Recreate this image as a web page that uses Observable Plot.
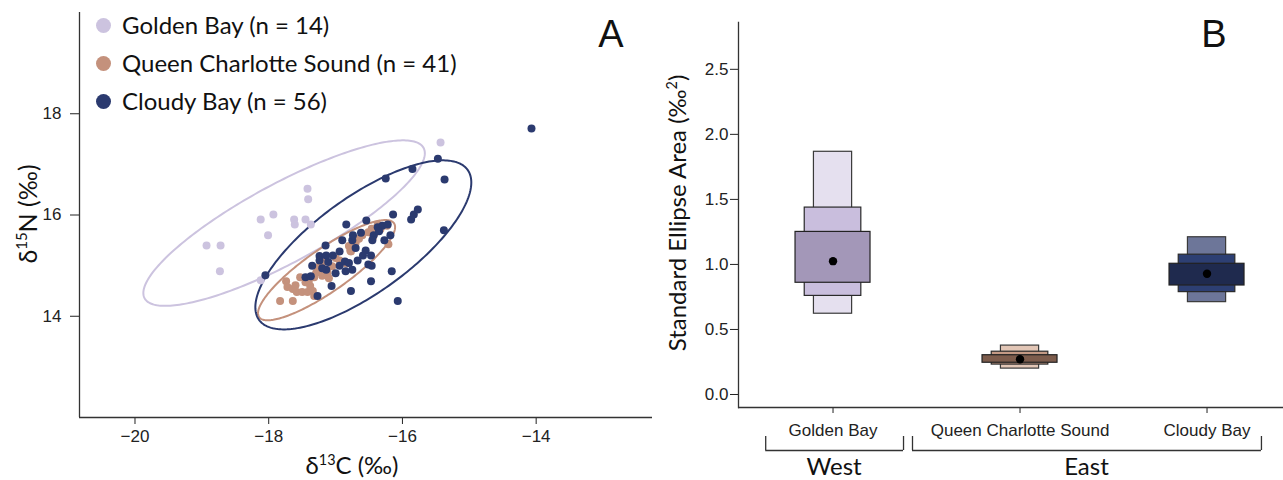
<!DOCTYPE html>
<html><head><meta charset="utf-8">
<script src="https://cdn.jsdelivr.net/npm/d3@7"></script>
<script src="https://cdn.jsdelivr.net/npm/@observablehq/plot@0.6"></script>
<style>
html,body{margin:0;padding:0;background:#fff;}
#wrap{position:relative;width:1283px;height:480px;overflow:hidden;font-family:Lato,"Open Sans",sans-serif;color:#111;}
#wrap svg{position:absolute;}
.t{position:absolute;white-space:nowrap;line-height:1;transform:translate(-50%,-50%);}
.leg{position:absolute;left:96px;display:flex;align-items:center;white-space:nowrap;font-size:24px;line-height:1;transform:translateY(-50%);}
.leg i{display:inline-block;width:15px;height:15px;border-radius:50%;margin-right:11px;}
</style></head><body><div id="wrap"></div>
<script>
// ---------- Panel A data ----------
const groups = ["Golden Bay", "Queen Charlotte Sound", "Cloudy Bay"];
const groupN = [14, 41, 56];
const groupColors = ["#ccc3df", "#c4917c", "#2b3a6f"];

const gbX = [-18.93, -18.72, -18.73, -18.12, -17.93, -18.01, -17.42, -17.41, -17.62, -17.61, -17.45, -17.37, -15.43, -18.12];
const gbY = [15.40, 15.40, 14.89, 15.91, 16.01, 15.60, 16.52, 16.31, 15.91, 15.81, 15.91, 15.81, 17.43, 14.71];

const qcsX = [-17.83, -17.64, -17.74, -17.72, -17.64, -17.58, -17.50, -17.42, -17.53, -17.45,
              -17.38, -17.34, -17.32, -17.32, -17.29, -17.24, -17.18, -17.12, -17.10, -17.05,
              -16.84, -16.80, -16.77, -16.65, -16.51, -16.46, -16.42, -16.37, -16.33, -16.21,
              -16.23, -17.60, -17.26, -16.94, -16.78, -16.44, -17.40, -17.20, -16.70, -17.00, -16.60];
const qcsY = [14.30, 14.30, 14.69, 14.58, 14.54, 14.48, 14.48, 14.48, 14.77, 14.67,
              14.60, 14.50, 14.40, 14.77, 14.86, 14.99, 15.07, 14.86, 14.75, 14.99,
              15.04, 15.39, 15.28, 15.53, 15.66, 15.73, 15.63, 15.81, 15.72, 15.42,
              15.79, 14.61, 14.94, 15.10, 15.30, 15.56, 14.70, 14.80, 15.45, 15.15, 15.60];

const cbX = [-18.05, -16.25, -15.85, -15.47, -16.14, -15.87, -15.83, -15.77, -15.38, -16.84,
             -16.54, -16.75, -16.74, -16.43, -16.45, -16.37, -16.30, -16.22, -16.27, -16.55,
             -16.59, -16.67, -16.94, -17.15, -17.24, -17.14, -17.04, -17.35, -17.24, -17.11,
             -16.94, -16.86, -16.75, -16.80, -16.51, -16.47, -16.16, -16.47, -16.77, -17.06,
             -17.45, -17.37, -17.27, -16.07, -17.14, -14.07, -15.37, -16.18, -16.90, -16.62,
             -16.46, -17.00, -16.70, -17.20, -16.35, -16.85];
const cbY = [14.81, 16.72, 16.91, 17.11, 16.01, 15.91, 16.01, 16.11, 15.70, 15.81,
             15.89, 15.50, 15.60, 15.60, 15.50, 15.76, 15.79, 15.81, 15.50, 15.30,
             15.20, 15.10, 15.28, 15.40, 15.19, 15.20, 15.20, 15.00, 15.10, 15.07,
             15.00, 15.08, 14.92, 15.05, 15.02, 15.20, 14.89, 14.69, 14.50, 14.60,
             14.77, 14.79, 14.40, 14.30, 14.92, 17.71, 16.70, 15.60, 15.50, 15.65,
             15.00, 14.85, 15.35, 14.95, 15.68, 14.89];

// standard ellipses (data units): centre, half-extents in x and y, phase (deg)
const ellCx = [-17.77, -17.135, -16.585];
const ellCy = [15.84, 14.91, 15.41];
const ellRx = [2.105, 1.025, 1.615];
const ellRy = [1.635, 0.99, 1.67];
const ellPhase = [32.4, 30.8, 42.5];

const xTicksA = [-20, -18, -16, -14];
const yTicksA = [14, 16, 18];
const xDomA = [-20.83, -12.26];
const yDomA = [12, 20];

// ---------- Panel B data ----------
const seaCats = ["Golden Bay", "Queen Charlotte Sound", "Cloudy Bay"];
const seaMode = [1.025, 0.271, 0.928];
const sea95Lo = [0.621, 0.199, 0.710];
const sea95Hi = [1.866, 0.376, 1.209];
const sea75Lo = [0.758, 0.230, 0.787];
const sea75Hi = [1.437, 0.329, 1.075];
const sea50Lo = [0.859, 0.244, 0.838];
const sea50Hi = [1.250, 0.302, 1.005];
const yTicksB = [0, 0.5, 1, 1.5, 2, 2.5];
const yDomB = [-0.1, 2.86];
const regionNames = ["West", "East"];
const regionFrom = [-0.36, 0.425];   // in category-index units
const regionTo = [0.377, 2.291];

// styles
const shadeOuter = ["#e5e0ef", "#e2c6b6", "#6d7699"];
const shadeMid = ["#c9bedd", "#c49a85", "#2d3f73"];
const shadeInner = ["#a397b8", "#7d5c4c", "#1f2a4e"];

// ---------- build ----------
const wrap = document.getElementById("wrap");
const tickFont = {fontFamily: "'Liberation Sans', Arial, sans-serif", fontSize: "17px", color: "#222", background: "transparent", overflow: "visible"};

const pts = [];
[[gbX, gbY], [qcsX, qcsY], [cbX, cbY]].forEach(([xs, ys], g) =>
  xs.forEach((x, i) => pts.push({g: groups[g], x, y: ys[i]})));
const ell = [];
groups.forEach((name, g) => {
  for (let k = 0; k <= 240; k++) {
    const t = k / 240 * 2 * Math.PI;
    ell.push({g: name,
      x: ellCx[g] + ellRx[g] * Math.cos(t),
      y: ellCy[g] + ellRy[g] * Math.cos(t - ellPhase[g] * Math.PI / 180)});
  }
});

const plotA = Plot.plot({
  width: 660, height: 480, marginLeft: 79, marginRight: 8, marginTop: 12, marginBottom: 63,
  style: tickFont,
  x: {domain: xDomA, ticks: xTicksA, tickSize: 7, tickPadding: 5, label: null},
  y: {domain: yDomA, ticks: yTicksA, tickSize: 9, tickPadding: 9, label: null},
  color: {domain: groups, range: groupColors},
  marks: [
    Plot.line(ell, {x: "x", y: "y", z: "g", stroke: "g", strokeWidth: 2}),
    Plot.dot(pts, {x: "x", y: "y", fill: "g", r: 4}),
    Plot.ruleX([xDomA[0]], {stroke: "#333", strokeWidth: 1.3}),
    Plot.ruleY([yDomA[0]], {stroke: "#333", strokeWidth: 1.3})
  ]
});
plotA.style.left = "0px"; plotA.style.top = "0px";
wrap.appendChild(plotA);

const seaRows = seaCats.map((c, i) => ({c, i, mode: seaMode[i],
  lo95: sea95Lo[i], hi95: sea95Hi[i], lo75: sea75Lo[i], hi75: sea75Hi[i], lo50: sea50Lo[i], hi50: sea50Hi[i]}));

const bandOpts = {paddingInner: 0.599, paddingOuter: 0.2567, align: 0.594};
const WB = 623, MLB = 78;
const plotB = Plot.plot({
  width: WB, height: 480, marginLeft: MLB, marginRight: 0, marginTop: 22, marginBottom: 73,
  style: tickFont,
  x: {type: "band", domain: seaCats, ...bandOpts, round: false, tickSize: 6, tickPadding: 10, label: null},
  y: {domain: yDomB, ticks: yTicksB, tickFormat: d3.format(".1f"), tickSize: 8, tickPadding: 2, label: null},
  color: {type: "identity"},
  marks: [
    Plot.barY(seaRows, {x: "c", y1: "lo95", y2: "hi95", fill: d => shadeOuter[d.i], stroke: "#3a3a3a", strokeWidth: 1.2, insetLeft: 18.4, insetRight: 18.4}),
    Plot.barY(seaRows, {x: "c", y1: "lo75", y2: "hi75", fill: d => shadeMid[d.i], stroke: "#2a2a2a", strokeWidth: 1.2, insetLeft: 9.2, insetRight: 9.2}),
    Plot.barY(seaRows, {x: "c", y1: "lo50", y2: "hi50", fill: d => shadeInner[d.i], stroke: "#222", strokeWidth: 1.2}),
    Plot.dot(seaRows, {x: "c", y: "mode", r: 4.2, fill: "#000"}),
    Plot.ruleY([yDomB[0]], {stroke: "#333", strokeWidth: 1.3}),
    Plot.frame({anchor: "left", stroke: "#333", strokeWidth: 1.3})
  ]
});
plotB.style.left = "660px"; plotB.style.top = "0px";
wrap.appendChild(plotB);

// brackets grouping categories into regions
const bx = d3.scaleBand(seaCats, [MLB, WB]).paddingInner(bandOpts.paddingInner).paddingOuter(bandOpts.paddingOuter).align(bandOpts.align);
const c0 = bx(seaCats[0]) + bx.bandwidth() / 2, c2 = bx(seaCats[2]) + bx.bandwidth() / 2;
const regions = regionNames.map((name, i) => ({name, from: regionFrom[i], to: regionTo[i], mid: (regionFrom[i] + regionTo[i]) / 2}));
const brk = Plot.plot({
  width: WB, height: 26, marginLeft: 0, marginRight: 0, marginTop: 6, marginBottom: 6,
  style: {background: "transparent", overflow: "visible"},
  x: {domain: [0, 2], range: [c0, c2], axis: null},
  y: {domain: [0, 1], axis: null},
  marks: [
    Plot.ruleX(regions, {x: "from", y1: 0, y2: 1, stroke: "#333", strokeWidth: 1.3}),
    Plot.ruleX(regions, {x: "to", y1: 0, y2: 1, stroke: "#333", strokeWidth: 1.3}),
    Plot.ruleY(regions, {y: 0, x1: "from", x2: "to", stroke: "#333", strokeWidth: 1.3})
  ]
});
brk.style.left = "660px"; brk.style.top = "430px";
wrap.appendChild(brk);

// legend and titles
groups.forEach((g, i) => {
  const d = document.createElement("div");
  d.className = "leg";
  d.style.top = (25 + i * 38) + "px";
  d.innerHTML = `<i style="background:${groupColors[i]}"></i>${g} (n = ${groupN[i]})`;
  wrap.appendChild(d);
});
function label(html, x, y, size, rot, family) {
  const d = document.createElement("div");
  d.className = "t";
  d.innerHTML = html;
  d.style.left = x + "px"; d.style.top = y + "px";
  d.style.fontSize = size + "px";
  if (family) d.style.fontFamily = family;
  if (rot) d.style.transform = "translate(-50%,-50%) rotate(-90deg)";
  wrap.appendChild(d);
}
regions.forEach(r => {
  const x = 660 + c0 + (c2 - c0) * r.mid / 2;
  label(r.name, x, 466, 24, false);
});
label("A", 611, 34, 38, false, "'Liberation Sans', Arial, sans-serif");
label("B", 1214, 34, 38, false, "'Liberation Sans', Arial, sans-serif");
label("δ<sup style='font-size:0.6em'>15</sup>N (‰)", 27, 214, 25, true);
label("δ<sup style='font-size:0.6em'>13</sup>C (‰)", 352, 465, 24, false);
label("Standard Ellipse Area (‰<sup style='font-size:0.6em'>2</sup>)", 677, 213, 24, true);
</script></body></html>
